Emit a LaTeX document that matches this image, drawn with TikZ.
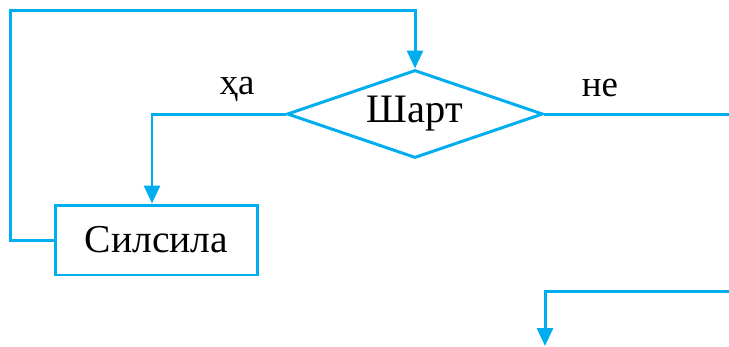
\documentclass[tikz,border=0pt]{standalone}
\usepackage{fontspec}
\setmainfont{Liberation Serif}
\usepackage{tikz}
\usetikzlibrary{shapes.geometric, arrows.meta, calc}
\definecolor{flowcyan}{RGB}{0,174,239}

\begin{document}
\begin{tikzpicture}[
  x=0.02cm, y=-0.02cm,
  font=\fontsize{21}{24}\selectfont,
  cond/.style={diamond, aspect=2.9, minimum width=5.12cm, minimum height=1.76cm, inner sep=0pt, draw=flowcyan, line width=1.7pt, font=\fontsize{23}{26}\selectfont},
  body/.style={rectangle, minimum width=4.06cm, minimum height=1.4cm, inner sep=0pt, draw=flowcyan, line width=1.7pt, font=\fontsize{22.5}{26}\selectfont},
  line/.style={draw=flowcyan, line width=1.7pt},
  arrow/.style={line, -{Triangle[length=3.6mm, width=3.2mm]}}
]
\useasboundingbox (0,0) rectangle (729,346);
\node (cond) [cond] at (415,114) {Шарт};
\node (loop) [body] at (156.5,240) {Силсила};
\coordinate (outR) at (729,114);
\coordinate (inR) at (729,291);
\coordinate (down) at (545,346);
\draw [arrow] (cond.west) -| ($(loop.north)+(-4.5,0)$);
\draw [arrow] (loop.west) -- ++(-43,0) |- ($(cond.north)+(0,-58)$) -- (cond.north);
\draw [line] (cond.east) -- (outR);
\draw [arrow] (inR) -| (down);
\node (yes) at (237,89) {ҳа};
\node (no) at (600,88) {не};
\end{tikzpicture}
\end{document}
